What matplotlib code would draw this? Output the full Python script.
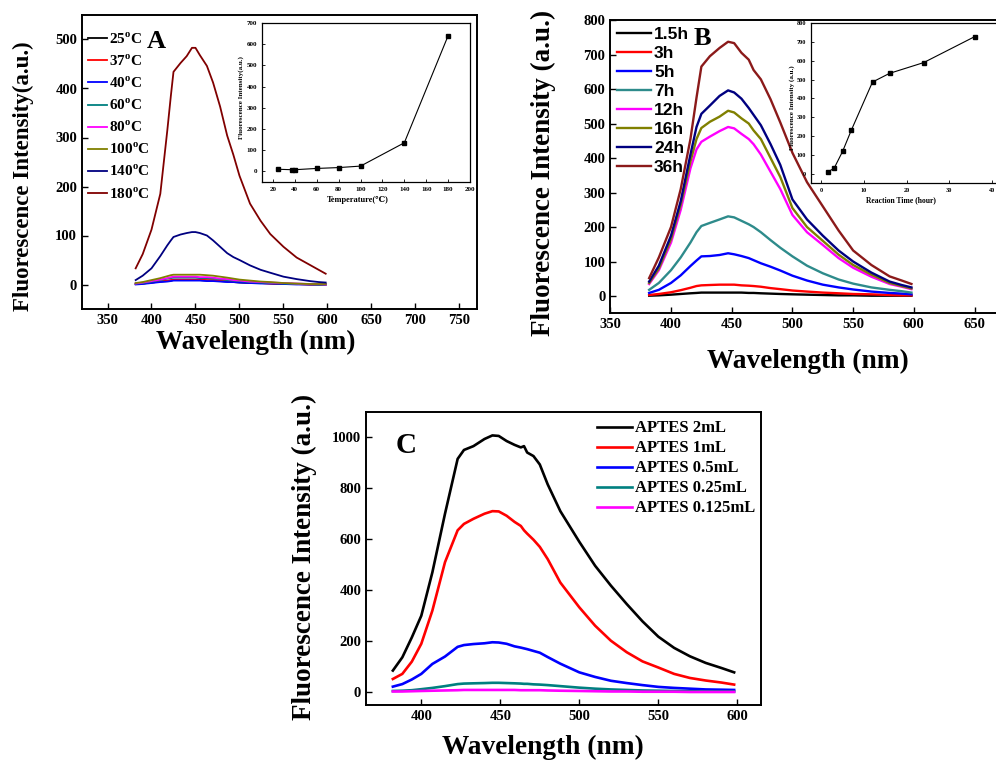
import numpy as np
import matplotlib
matplotlib.use("Agg")
import matplotlib.pyplot as plt

plt.rcParams['font.family'] = ['Liberation Serif', 'DejaVu Serif']
plt.rcParams['font.weight'] = 'bold'
plt.rcParams['mathtext.fontset'] = 'custom'
plt.rcParams['mathtext.rm'] = 'Liberation Serif:bold'
plt.rcParams['mathtext.bf'] = 'Liberation Serif:bold'
plt.rcParams['xtick.direction'] = 'in'
plt.rcParams['ytick.direction'] = 'in'

# ---- panel A: temperature series ----
wl_a = [382, 390, 400, 410, 418, 422, 425, 433, 440, 446, 450, 455, 463, 470,
        478, 486, 493, 500, 512, 524, 535, 550, 565, 580, 590, 598]
temp_labels = ["25", "37", "40", "60", "80", "100", "140", "180"]
a_25 = [1, 2, 4, 6, 7, 8, 9, 9, 9, 9, 9, 9, 8, 8, 7, 6, 5, 4, 3, 3, 2, 1, 1, 0, 0, 0]
a_37 = [1, 2, 4, 6, 8, 9, 10, 10, 10, 10, 10, 10, 9, 9, 8, 7, 6, 5, 4, 3, 2, 1, 1, 0, 0, 0]
a_40 = [0, 1, 3, 5, 6, 7, 8, 8, 8, 8, 8, 8, 7, 7, 6, 5, 5, 4, 3, 2, 2, 1, 0, 0, 0, 0]
a_60 = [2, 3, 6, 9, 12, 13, 14, 14, 14, 14, 14, 13, 13, 12, 11, 9, 8, 7, 5, 4, 3, 2, 1, 1, 0, 0]
a_80 = [2, 4, 7, 10, 13, 15, 16, 16, 16, 16, 16, 15, 15, 14, 12, 11, 9, 8, 6, 5, 4, 3, 2, 1, 1, 0]
a_100 = [3, 5, 9, 13, 17, 19, 20, 20, 20, 20, 20, 20, 19, 18, 16, 14, 12, 10, 8, 6, 5, 3, 2, 1, 1, 1]
a_140 = [9, 18, 33, 58, 80, 90, 97, 102, 105, 107, 107, 105, 100, 90, 77, 64, 56, 50, 39, 30,
         24, 16, 11, 7, 5, 4]
a_180 = [33, 62, 112, 185, 315, 385, 434, 452, 466, 483, 483, 468, 446, 412, 363, 304, 265,
         222, 165, 130, 103, 77, 55, 40, 30, 22]
colors_a = ["black", "#FF0000", "#0000FF", "#008080", "#FF00FF", "#808000", "#000080", "#800000"]

# inset A
temp_x = [25, 37, 40, 60, 80, 100, 140, 180]
temp_y = [10, 8, 8, 14, 18, 25, 135, 640]

# ---- panel B: reaction time series ----
wl_b = [382, 390, 400, 408, 416, 421, 425, 432, 440, 447, 452, 458, 464, 468, 474, 482,
        490, 500, 512, 525, 538, 550, 565, 580, 590, 598]
time_labels = ["1.5h", "3h", "5h", "7h", "12h", "16h", "24h", "36h"]
b_1_5 = [1, 2, 4, 6, 8, 9, 10, 10, 10, 10, 10, 10, 9, 9, 8, 7, 6, 5, 4, 3, 2, 2, 1, 1, 1, 1]
b_3 = [3, 6, 11, 17, 24, 29, 31, 32, 33, 33, 33, 31, 30, 29, 27, 23, 20, 16, 13, 10, 8, 6, 5, 3, 2, 2]
b_5 = [9, 18, 38, 60, 87, 103, 115, 116, 119, 124, 121, 116, 110, 104, 95, 85, 74, 59, 45, 33,
       25, 19, 13, 9, 7, 5]
b_7 = [18, 38, 75, 112, 155, 185, 203, 212, 222, 231, 228, 218, 208, 200, 185, 162, 140, 115,
       88, 66, 48, 36, 25, 18, 14, 10]
b_12 = [35, 75, 155, 250, 370, 425, 447, 462, 478, 490, 486, 470, 455, 440, 410, 360, 310, 235,
        185, 148, 110, 82, 56, 35, 27, 20]
b_16 = [38, 80, 165, 265, 390, 455, 487, 505, 520, 537, 532, 515, 500, 480, 455, 400, 345, 255,
        200, 160, 120, 90, 62, 38, 29, 22]
b_24 = [42, 88, 175, 275, 410, 490, 528, 552, 580, 596, 590, 572, 545, 525, 495, 440, 380, 280,
        222, 175, 132, 100, 68, 42, 32, 25]
b_36 = [52, 112, 200, 310, 455, 575, 665, 695, 719, 737, 733, 705, 685, 655, 628, 570, 503, 415,
        330, 260, 190, 132, 90, 57, 45, 35]
colors_b = ["black", "#FF0000", "#0000FF", "#2E8B8B", "#FF00FF", "#808000", "#000080", "#8B1A1A"]

# inset B
time_x = [1.5, 3, 5, 7, 12, 16, 24, 36]
time_y = [10, 30, 120, 230, 487, 533, 590, 728]

# ---- panel C: APTES volume ----
wl_c = [382, 388, 394, 400, 407, 415, 423, 427, 433, 440, 445, 449, 454, 459, 463, 465, 467,
        471, 475, 480, 488, 500, 510, 520, 530, 540, 550, 560, 570, 580, 590, 598]
aptes_labels = ["APTES 2mL", "APTES 1mL", "APTES 0.5mL", "APTES 0.25mL", "APTES 0.125mL"]
c_2 = [85, 137, 215, 300, 470, 700, 915, 950, 965, 993, 1007, 1005, 985, 970, 960, 965, 940,
       926, 893, 815, 710, 590, 496, 418, 346, 278, 218, 174, 141, 115, 95, 78]
c_1 = [52, 72, 120, 190, 320, 510, 635, 660, 680, 700, 710, 709, 692, 668, 652, 635, 622,
       598, 570, 522, 430, 333, 261, 202, 157, 121, 97, 72, 56, 46, 38, 30]
c_05 = [22, 32, 50, 72, 111, 140, 178, 185, 189, 192, 196, 195, 190, 180, 175, 172, 169,
        162, 155, 138, 112, 78, 60, 45, 36, 28, 21, 17, 14, 11, 10, 9]
c_025 = [5, 6, 8, 12, 17, 24, 32, 34, 35, 36, 37, 37, 36, 35, 34, 33, 33, 31, 30, 28, 24, 18,
         14, 11, 9, 7, 6, 5, 4, 3, 3, 3]
c_0125 = [3, 3, 4, 5, 6, 7, 8, 9, 9, 9, 9, 9, 9, 9, 8, 8, 8, 8, 8, 7, 6, 5, 4, 3, 3, 2, 2, 2,
          1, 1, 1, 1]
colors_c = ["black", "#FF0000", "#0000FF", "#008080", "#FF00FF"]

W, H = 996, 771
fig = plt.figure(figsize=(W / 100, H / 100), dpi=100)


def box(l, t, r, b):
    return [l / W, (H - b) / H, (r - l) / W, (b - t) / H]


def style(ax, size, lw=1.4):
    for s in ax.spines.values():
        s.set_linewidth(lw)
    ax.tick_params(labelsize=size, width=1.0, length=4)


# panel A
axA = fig.add_axes(box(82, 15, 477, 309))
series_a = [a_25, a_37, a_40, a_60, a_80, a_100, a_140, a_180]
for t, ys, c in zip(temp_labels, series_a, colors_a):
    axA.plot(wl_a, ys, color=c, lw=1.3, label=t + r"$^{\mathrm{o}}$C")
axA.set_xlim(321, 770)
axA.set_ylim(-50, 550)
axA.set_xticks(np.arange(350, 751, 50))
axA.set_yticks(np.arange(0, 501, 100))
style(axA, 10.5)
axA.legend(loc='upper left', bbox_to_anchor=(0.014, 0.945), frameon=False, fontsize=11,
           handlelength=1.25, handletextpad=0.15, labelspacing=0.44, borderpad=0, borderaxespad=0)
axA.text(0.163, 0.95, "A", transform=axA.transAxes, fontsize=19, ha='left', va='top')

insA = fig.add_axes(box(262, 23, 470, 182))
insA.plot(temp_x, temp_y, color='black', lw=0.8, marker='s', ms=3.5)
insA.set_xlim(10, 200)
insA.set_ylim(-50, 700)
insA.set_xticks(np.arange(20, 201, 20))
insA.set_yticks(np.arange(0, 701, 100))
style(insA, 5, lw=0.9)
insA.tick_params(length=2, width=0.6)
fig.text(241.5 / W, 1 - 98 / H, "Fluorescence Intensity(a.u.)", rotation=90, fontsize=5,
         ha='center', va='center')
fig.text(357.5 / W, 1 - 200 / H, "Temperature(\u2103)", fontsize=6, ha='center', va='center')

fig.text(23 / W, 1 - 176 / H, "Fluorescence Intensity(a.u.)", rotation=90, fontsize=16.5,
         ha='center', va='center')
fig.text(256 / W, 1 - 342 / H, "Wavelength (nm)", fontsize=19.5, ha='center', va='center')

# panel B
axB = fig.add_axes(box(610.3, 20, 1011, 313.3))
series_b = [b_1_5, b_3, b_5, b_7, b_12, b_16, b_24, b_36]
for t, ys, c in zip(time_labels, series_b, colors_b):
    axB.plot(wl_b, ys, color=c, lw=1.7, label=t)
axB.set_xlim(350, 680)
axB.set_ylim(-50, 800)
axB.set_xticks(np.arange(350, 651, 50))
axB.set_yticks(np.arange(0, 801, 100))
style(axB, 10.5)
axB.legend(loc='upper left', bbox_to_anchor=(0.016, 0.975), frameon=False,
           prop={'family': 'Liberation Sans', 'weight': 'bold', 'size': 12.5},
           handlelength=1.95, handletextpad=0.2, labelspacing=0.215, borderpad=0, borderaxespad=0)
axB.text(0.207, 0.975, "B", transform=axB.transAxes, fontsize=19, ha='left', va='top')

insB = fig.add_axes(box(810.7, 23, 1002.5, 183.3))
insB.plot(time_x, time_y, color='black', lw=0.8, marker='s', ms=3.5)
insB.set_xlim(-2.5, 42.5)
insB.set_ylim(-50, 800)
insB.set_xticks(np.arange(0, 41, 10))
insB.set_yticks(np.arange(0, 801, 100))
style(insB, 4.5, lw=0.9)
insB.tick_params(length=2, width=0.6)
fig.text(792 / W, 1 - 108 / H, "Fluorescence Intensity (a.u.)", rotation=90, fontsize=5,
         ha='center', va='center')
fig.text(900.5 / W, 1 - 200 / H, "Reaction Time (hour)", fontsize=5.5, ha='center', va='center')

fig.text(543 / W, 1 - 173 / H, "Fluorescence Intensity (a.u.)", rotation=90, fontsize=19.5,
         ha='center', va='center')
fig.text(808 / W, 1 - 368 / H, "Wavelength (nm)", fontsize=19.7, ha='center', va='baseline')

# panel C
axC = fig.add_axes(box(366, 411.7, 761, 705))
series_c = [c_2, c_1, c_05, c_025, c_0125]
for t, ys, c in zip(aptes_labels, series_c, colors_c):
    axC.plot(wl_c, ys, color=c, lw=1.9, label=t)
axC.set_xlim(365, 615)
axC.set_ylim(-50, 1100)
axC.set_xticks(np.arange(400, 601, 50))
axC.set_yticks(np.arange(0, 1001, 200))
style(axC, 10.5)
axC.legend(loc='upper left', bbox_to_anchor=(0.585, 0.97), frameon=False, fontsize=12,
           handlelength=2.1, handletextpad=0.2, labelspacing=0.24, borderpad=0, borderaxespad=0)
axC.text(0.075, 0.93, "C", transform=axC.transAxes, fontsize=21, ha='left', va='top')

fig.text(304 / W, 1 - 557 / H, "Fluorescence Intensity (a.u.)", rotation=90, fontsize=19.5,
         ha='center', va='center')
fig.text(543 / W, 1 - 747 / H, "Wavelength (nm)", fontsize=19.7, ha='center', va='center')

fig.savefig("out.png", dpi=100)
